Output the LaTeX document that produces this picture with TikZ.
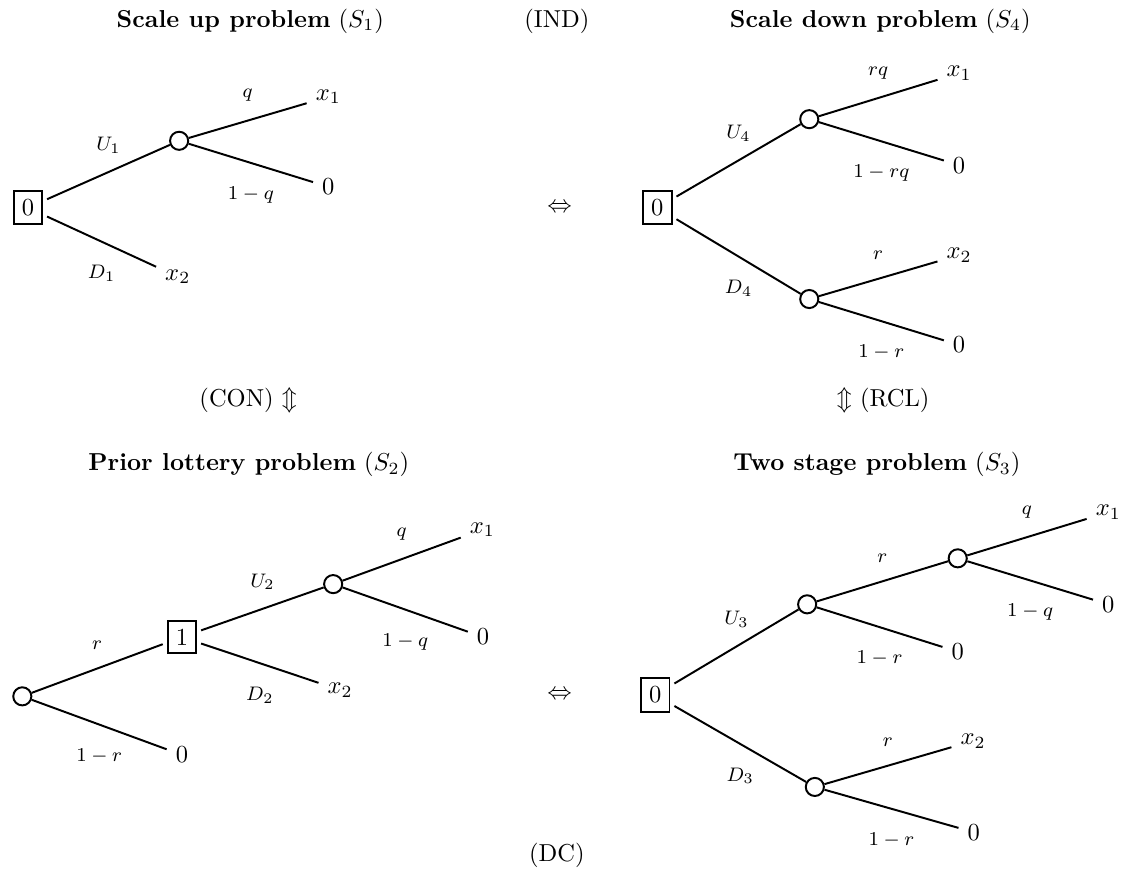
\documentclass[tikz,border=0pt]{standalone}
\usepackage{amssymb,amsmath}
\usetikzlibrary{positioning}

\begin{document}
\begin{tikzpicture}[decision/.style = {draw, rectangle, outer sep=2pt},
      chance/.style = {draw, circle, minimum size=7.4pt, inner sep=0pt},
      up lab/.style = {midway, above=4pt, font=\footnotesize},
      down lab/.style = {midway, below=6pt, font=\footnotesize},
      thick]
      \useasboundingbox (0,0) rectangle (16.14,-12.48);

      % headings and relations
      \node (h1) at (3.59,-0.30) {\textbf{Scale up problem} ($S_1$)};
      \node (ind) at (7.99,-0.30) {(IND)};
      \node (h4) at (12.63,-0.30) {\textbf{Scale down problem} ($S_4$)};
      \node (eq1) at (8.03,-2.98) {$\Leftrightarrow$};
      \node (con) at (3.56,-5.75) {(CON) $\Updownarrow$};
      \node (rcl) at (12.67,-5.75) {$\Updownarrow$ (RCL)};
      \node (h2) at (3.57,-6.66) {\textbf{Prior lottery problem} ($S_2$)};
      \node (h3) at (12.58,-6.66) {\textbf{Two stage problem} ($S_3$)};
      \node (eq2) at (8.03,-9.97) {$\Leftrightarrow$};
      \node (dc) at (7.99,-12.27) {(DC)};

      % S1
      \node[decision] (u0) at (0.40,-2.98) {0};
      \node[chance] (u1) at (2.57,-2.02) {};
      \node (u2) at (4.71,-1.39) {$x_1$};
      \node (u3) at (4.71,-2.68) {$0$};
      \node (u4) at (2.55,-3.97) {$x_2$};

      \draw (u0) -- node[up lab] {$U_1$} (u1);
      \draw (u0) -- node[down lab] {$D_1$} (u4);
      \draw (u1) -- node[up lab] {$q$} (u2);
      \draw (u1) -- node[down lab] {$1-q$} (u3);

      % S4
      \node[decision] (d0) at (9.43,-2.98) {0};
      \node[chance] (d1) at (11.61,-1.71) {};
      \node[chance] (d2) at (11.61,-4.29) {};
      \node (d3) at (13.76,-1.05) {$x_1$};
      \node (d4) at (13.76,-2.37) {$0$};
      \node (d5) at (13.76,-3.66) {$x_2$};
      \node (d6) at (13.76,-4.95) {$0$};

      \draw (d0) -- node[up lab] {$U_4$} (d1);
      \draw (d0) -- node[down lab] {$D_4$} (d2);
      \draw (d1) -- node[up lab] {$rq$} (d3);
      \draw (d1) -- node[down lab] {$1-rq$} (d4);
      \draw (d2) -- node[up lab] {$r$} (d5);
      \draw (d2) -- node[down lab] {$1-r$} (d6);

      % S2
      \node[chance] (p0) at (0.32,-9.99) {};
      \node[decision] (p1) at (2.61,-9.14) {1};
      \node[chance] (p2) at (4.78,-8.38) {};
      \node (p3) at (6.92,-7.60) {$x_1$};
      \node (p4) at (6.93,-9.14) {$0$};
      \node (p5) at (4.88,-9.90) {$x_2$};
      \node (p6) at (2.61,-10.83) {$0$};

      \draw (p0) -- node[up lab] {$r$} (p1);
      \draw (p0) -- node[down lab] {$1-r$} (p6);
      \draw (p1) -- node[up lab] {$U_2$} (p2);
      \draw (p1) -- node[down lab] {$D_2$} (p5);
      \draw (p2) -- node[up lab] {$q$} (p3);
      \draw (p2) -- node[down lab] {$1-q$} (p4);

      % S3
      \node[decision] (t0) at (9.40,-9.97) {0};
      \node[chance] (t1) at (11.58,-8.67) {};
      \node[chance] (t2) at (13.74,-8.01) {};
      \node (t3) at (15.90,-7.35) {$x_1$};
      \node (t4) at (15.90,-8.67) {$0$};
      \node (t5) at (13.74,-9.35) {$0$};
      \node[chance] (t6) at (11.69,-11.29) {};
      \node (t7) at (13.96,-10.63) {$x_2$};
      \node (t8) at (13.97,-11.94) {$0$};

      \draw (t0) -- node[up lab] {$U_3$} (t1);
      \draw (t0) -- node[down lab] {$D_3$} (t6);
      \draw (t1) -- node[up lab] {$r$} (t2);
      \draw (t1) -- node[down lab] {$1-r$} (t5);
      \draw (t2) -- node[up lab] {$q$} (t3);
      \draw (t2) -- node[down lab] {$1-q$} (t4);
      \draw (t6) -- node[up lab] {$r$} (t7);
      \draw (t6) -- node[down lab] {$1-r$} (t8);
    \end{tikzpicture}
\end{document}
